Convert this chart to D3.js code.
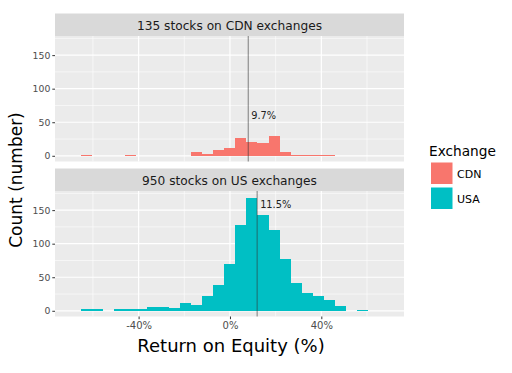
<!DOCTYPE html>
<html>
<head>
	<title>ROE histogram</title>
	<script type="text/javascript" src="https://d3js.org/d3.v7.min.js"></script>
	<style>
		body { margin: 0; background: #fff; }
		text { font-family: "DejaVu Sans", sans-serif; }
	</style>
</head>
<body>
	<script type="text/javascript">
		// histogram bins (percent ROE), same bins for both panels
		var binStart = -65.4;
		var binWidth = 4.84;
		var cdnCounts = [1,0,0,0,1,0,0,0,0,0,5,3,8,12,26,20,19,30,6,1,1,1,1,0,0,0];
		var usaCounts = [2,2,0,2,2,3,5,5,4,12,9,22,38,69,128,168,143,121,77,41,27,22,16,7,0,1];

		var exchanges = ["CDN", "USA"];
		var stripTitles = ["135 stocks on CDN exchanges", "950 stocks on US exchanges"];
		var lineAt = [8.0, 11.9];
		var lineLabels = ["9.7%", "11.5%"];
		var labelCount = [55, 153];

		var xTicks = [-40, 0, 40];
		var xMinor = [-60, -20, 20, 60];
		var yTicks = [0, 50, 100, 150];
		var yMinor = [25, 75, 125, 175];

		var colors = ["#F8766D", "#00BFC4"];
		var allCounts = [cdnCounts, usaCounts];

		var W = 512, H = 373;
		var svg = d3.select("body").append("svg").attr("width", W).attr("height", H);

		var x = d3.scaleLinear().domain([-76.6, 76.2]).range([55, 404]);
		var panelH = 125.5, stripH = 22.5;
		var panelTops = [36, 191];

		allCounts.forEach(function (counts, p) {
			var top = panelTops[p];
			var y = d3.scaleLinear().domain([-8.5, 178.5]).range([top + panelH, top]);
			var g = svg.append("g");

			// strip
			g.append("rect").attr("x", 55).attr("y", top - stripH)
				.attr("width", 349).attr("height", stripH).attr("fill", "#D9D9D9");
			g.append("text").attr("x", 229.5).attr("y", top - 6)
				.attr("text-anchor", "middle").attr("font-size", 12.2).attr("fill", "#1A1A1A")
				.text(stripTitles[p]);

			// panel background + grid
			g.append("rect").attr("x", 55).attr("y", top)
				.attr("width", 349).attr("height", panelH).attr("fill", "#EBEBEB");
			g.selectAll(".ymin").data(yMinor).enter().append("line")
				.attr("x1", 55).attr("x2", 404)
				.attr("y1", function (d) { return y(d); }).attr("y2", function (d) { return y(d); })
				.attr("stroke", "#fff").attr("stroke-width", 0.6);
			g.selectAll(".xmin").data(xMinor).enter().append("line")
				.attr("y1", top).attr("y2", top + panelH)
				.attr("x1", function (d) { return x(d); }).attr("x2", function (d) { return x(d); })
				.attr("stroke", "#fff").attr("stroke-width", 0.6);
			g.selectAll(".ymaj").data(yTicks).enter().append("line")
				.attr("x1", 55).attr("x2", 404)
				.attr("y1", function (d) { return y(d); }).attr("y2", function (d) { return y(d); })
				.attr("stroke", "#fff").attr("stroke-width", 1.2);
			g.selectAll(".xmaj").data(xTicks).enter().append("line")
				.attr("y1", top).attr("y2", top + panelH)
				.attr("x1", function (d) { return x(d); }).attr("x2", function (d) { return x(d); })
				.attr("stroke", "#fff").attr("stroke-width", 1.2);

			// bars
			g.selectAll(".bar").data(counts).enter().append("rect")
				.attr("x", function (d, i) { return x(binStart + i * binWidth); })
				.attr("width", x(binWidth) - x(0))
				.attr("y", function (d) { return y(d); })
				.attr("height", function (d) { return y(0) - y(d); })
				.attr("fill", colors[p])
				.attr("shape-rendering", "crispEdges");

			// reference line + label
			g.append("line").attr("x1", x(lineAt[p])).attr("x2", x(lineAt[p]))
				.attr("y1", top).attr("y2", top + panelH)
				.attr("stroke", "#333").attr("stroke-width", 0.6);
			g.append("text").attr("x", x(lineAt[p]) + 3).attr("y", y(labelCount[p]))
				.attr("font-size", 9.8).attr("fill", "#222").text(lineLabels[p]);

			// y axis
			var yAxis = g.append("g").attr("transform", "translate(55,0)")
				.call(d3.axisLeft(y).tickValues(yTicks).tickSize(2.7).tickPadding(2));
			yAxis.select(".domain").remove();
			yAxis.selectAll("line").attr("stroke", "#333");
			yAxis.selectAll("text").attr("font-size", 9.3).attr("fill", "#4D4D4D")
				.attr("font-family", "DejaVu Sans, sans-serif");

			if (p === 1) {
				var xAxis = g.append("g").attr("transform", "translate(0," + (top + panelH) + ")")
					.call(d3.axisBottom(x).tickValues(xTicks).tickSize(2.7).tickPadding(3)
						.tickFormat(function (d) { return d + "%"; }));
				xAxis.select(".domain").remove();
				xAxis.selectAll("line").attr("stroke", "#333");
				xAxis.selectAll("text").attr("font-size", 10).attr("fill", "#4D4D4D")
					.attr("font-family", "DejaVu Sans, sans-serif");
			}
		});

		// axis titles
		svg.append("text").attr("x", 231).attr("y", 352)
			.attr("text-anchor", "middle").attr("font-size", 18).attr("fill", "#000")
			.text("Return on Equity (%)");
		svg.append("text").attr("transform", "translate(22,180) rotate(-90)")
			.attr("text-anchor", "middle").attr("font-size", 17).attr("fill", "#000")
			.text("Count (number)");

		// legend
		var legend = svg.append("g");
		legend.append("text").attr("x", 429).attr("y", 156)
			.attr("font-size", 13.7).attr("fill", "#000").text("Exchange");
		legend.selectAll(".key").data(exchanges).enter().append("rect")
			.attr("x", 431).attr("y", function (d, i) { return 162.5 + i * 25; })
			.attr("width", 21.5).attr("height", 21.5)
			.attr("fill", function (d, i) { return colors[i]; });
		legend.selectAll(".lab").data(exchanges).enter().append("text")
			.attr("x", 457).attr("y", function (d, i) { return 178 + i * 25; })
			.attr("font-size", 11).attr("fill", "#000").text(function (d) { return d; });
	</script>
</body>
</html>
